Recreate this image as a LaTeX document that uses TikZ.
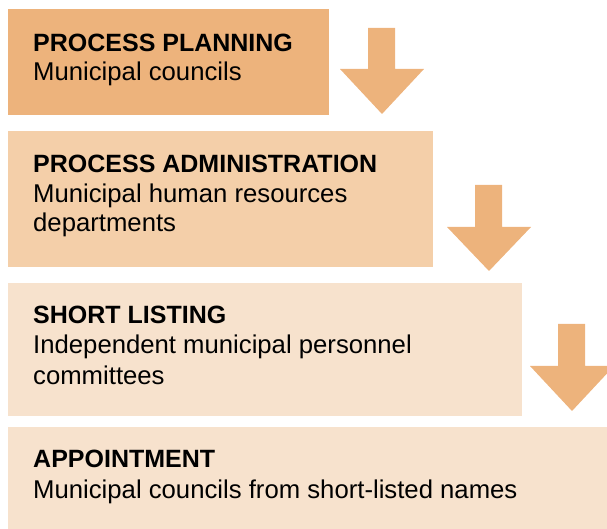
\documentclass[tikz,border=0pt]{standalone}
\usepackage{fontspec}
\setmainfont{Liberation Sans}
\definecolor{c1}{HTML}{EDB37C}
\definecolor{c2}{HTML}{F4CFA9}
\definecolor{c3}{HTML}{F7E2CD}
\begin{document}
\begin{tikzpicture}[x=1pt,y=1pt,
  box/.style={fill=#1, draw=none},
  ttl/.style={anchor=base west, inner sep=0pt, font=\bfseries\fontsize{25}{30}\selectfont},
  sub/.style={anchor=base west, inner sep=0pt, font=\fontsize{25.7}{30}\selectfont},
  arr/.style={fill=c1, draw=none}]
\useasboundingbox (0,0) rectangle (607,529);
\begin{scope}
\clip (0,0) rectangle (607,529);
\fill[box=c1] (8,414) rectangle (329,520);
\fill[box=c2] (8,262) rectangle (433,398);
\fill[box=c3] (8,113) rectangle (522,246);
\fill[box=c3] (8,0) rectangle (607,102);
\fill[arr] (368,501) -- (395,501) -- (395,460) -- (424,460) -- (382,415) -- (340,460) -- (368,460) -- cycle;
\fill[arr] (475,344) -- (502,344) -- (502,302) -- (531,302) -- (489,258) -- (447,302) -- (475,302) -- cycle;
\fill[arr] (558,205) -- (585,205) -- (585,163) -- (614,163) -- (572,118) -- (530,163) -- (558,163) -- cycle;
\end{scope}
\node[ttl] (t1) at (33,477) {PROCESS PLANNING};
\node[sub] (s1) at (33,448) {Municipal councils};
\node[ttl] (t2) at (33,356) {PROCESS ADMINISTRATION};
\node[sub] (s2) at (33,326) {Municipal human resources};
\node[sub] (s2b) at (33,297) {departments};
\node[ttl] (t3) at (33,205) {SHORT LISTING};
\node[sub] (s3) at (33,175) {Independent municipal personnel};
\node[sub] (s3b) at (33,144) {committees};
\node[ttl] (t4) at (33,61) {APPOINTMENT};
\node[sub] (s4) at (33,30) {Municipal councils from short-listed names};
\end{tikzpicture}
\end{document}
